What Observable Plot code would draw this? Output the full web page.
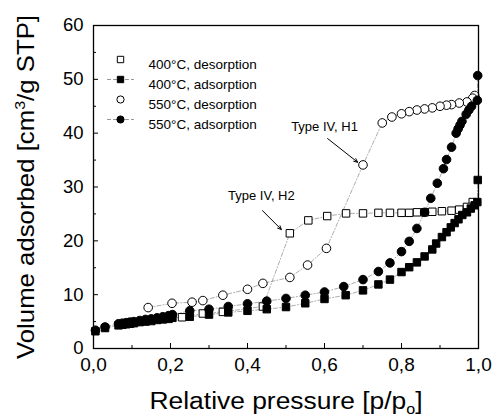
<!DOCTYPE html>
<html><head><meta charset="utf-8">
<script src="https://cdn.jsdelivr.net/npm/d3@7"></script>
<script src="https://cdn.jsdelivr.net/npm/@observablehq/plot@0.6"></script>
<style>
body{margin:0;background:#fff}
svg{font-family:"Liberation Sans", Arial, sans-serif}
</style>
</head><body><div id="chart"></div>
<script>
// ---- data ----
const p400des = [0.985,0.97,0.95,0.93,0.905,0.88,0.86,0.84,0.82,0.80,0.77,0.74,0.70,0.656,0.607,0.558,0.51,0.44,0.336,0.284,0.23];
const v400des = [27.2,26.3,25.8,25.6,25.5,25.4,25.3,25.3,25.2,25.2,25.2,25.2,25.1,25.1,24.6,23.8,21.4,7.8,6.8,6.5,5.8];

const p400ads = [0.005,0.03,0.065,0.075,0.085,0.095,0.105,0.12,0.135,0.15,0.165,0.18,0.195,0.205,0.25,0.30,0.35,0.40,0.45,0.50,0.55,0.60,0.655,0.70,0.74,0.77,0.80,0.82,0.84,0.86,0.88,0.89,0.905,0.917,0.928,0.938,0.948,0.958,0.97,0.98,0.99,0.997,0.998];
const v400ads = [3.2,3.8,4.3,4.4,4.5,4.6,4.7,4.9,5.0,5.1,5.3,5.4,5.5,5.7,5.9,6.3,6.7,7.0,7.3,7.7,8.4,9.2,9.9,10.8,11.9,12.8,14.2,15.1,16.0,17.1,18.4,19.5,20.7,21.6,22.5,23.3,24.0,24.8,25.3,26.0,26.6,27.2,31.3];

const p550des = [0.99,0.985,0.97,0.95,0.93,0.917,0.90,0.88,0.86,0.84,0.82,0.80,0.775,0.75,0.70,0.605,0.556,0.51,0.44,0.40,0.336,0.284,0.256,0.204,0.142];
const v550des = [47.0,46.5,45.8,45.6,45.3,45.2,45.0,44.7,44.5,44.3,44.0,43.6,43.0,41.9,34.1,18.6,15.5,13.2,12.1,11.0,9.9,8.9,8.6,8.4,7.6];

const p550ads = [0.005,0.03,0.065,0.075,0.085,0.095,0.105,0.12,0.135,0.15,0.165,0.18,0.195,0.205,0.25,0.30,0.35,0.40,0.45,0.50,0.55,0.60,0.65,0.70,0.74,0.77,0.80,0.82,0.84,0.86,0.876,0.893,0.909,0.917,0.93,0.942,0.947,0.952,0.957,0.968,0.975,0.982,0.997,0.998];
const v550ads = [3.4,4.0,4.6,4.7,4.8,4.9,5.0,5.2,5.4,5.5,5.7,5.9,6.1,6.3,7.0,7.3,7.8,8.3,8.8,9.3,9.9,10.5,11.5,12.8,14.3,15.9,18.0,19.9,22.3,25.3,27.9,30.7,33.4,35.1,37.4,40.0,40.8,41.5,42.2,43.5,44.3,45.0,46.1,50.7];

const seriesNames = ["400°C, desorption","400°C, adsorption","550°C, desorption","550°C, adsorption"];
const seriesSymbols = ["square","square","circle","circle"];
const seriesFilled = [false,true,false,true];
const seriesLegendLine = [false,true,false,true];

const xTicks = [0,0.2,0.4,0.6,0.8,1.0];
const xMinor = [0.1,0.3,0.5,0.7,0.9];
const yTicks = [0,10,20,30,40,50,60];
const yMinor = [5,15,25,35,45,55];

const annLabels = ["Type IV, H1","Type IV, H2"];
const annTextX = [0.60,0.436];
const annTextY = [41.1,28.4];
const annFromX = [0.608,0.439];
const annFromY = [39.0,25.6];
const annToX = [0.686,0.488];
const annToY = [34.6,22.1];

const xTitle = "Relative pressure [p/po]";
const yTitle = "Volume adsorbed [cm³/g STP]";

// ---- build tables ----
const pairs = [[p400des,v400des],[p400ads,v400ads],[p550des,v550des],[p550ads,v550ads]];
const series = pairs.map(([ps,vs],i) => ps.map((p,j) => ({p, v: vs[j], s: seriesNames[i], i})));
const annotations = annLabels.map((t,i) => ({t, tx: annTextX[i], ty: annTextY[i], x1: annFromX[i], y1: annFromY[i], x2: annToX[i], y2: annToY[i]}));
const fmt = d => d.toFixed(1).replace(".", ",");

const marks = [];
series.forEach(rows => {
  marks.push(Plot.line(rows.slice().sort((a,b)=>a.p-b.p), {x:"p", y:"v", stroke:"#888", strokeWidth:0.7, strokeDasharray:"4,2,1,2"}));
});
series.forEach((rows,i) => {
  marks.push(Plot.dot(rows, {x:"p", y:"v", symbol: seriesSymbols[i], r: seriesSymbols[i]==="square"?4.2:4.3,
    fill: seriesFilled[i] ? "black" : "white", stroke:"black", strokeWidth: 1}));
});
seriesNames.forEach((name,i) => {
  const dy = 34 + i*20;
  if (seriesLegendLine[i]) {
    marks.push(Plot.vector([name], {frameAnchor:"top-left", dx: 14, dy, length: 26, rotate: 90, anchor:"start",
      stroke:"#777", strokeWidth:0.8, strokeDasharray:"3,3",
      shape: {draw(ctx, l){ ctx.moveTo(0,0); ctx.lineTo(0,-l); }}}));
  }
  marks.push(Plot.dot([name], {frameAnchor:"top-left", dx: 27, dy, symbol: seriesSymbols[i], r: 3.6,
    fill: seriesFilled[i] ? "black" : "white", stroke:"black", strokeWidth: 1}));
  marks.push(Plot.text([name], {frameAnchor:"top-left", dx: 55, dy, text: d=>d, textAnchor:"start", fontSize: 13.5, fill:"black"}));
});
marks.push(Plot.arrow(annotations, {x1:"x1", y1:"y1", x2:"x2", y2:"y2", stroke:"black", strokeWidth:1, headLength:6, headAngle:50}));
marks.push(Plot.text(annotations, {x:"tx", y:"ty", text:"t", fontSize:13, fill:"black"}));
marks.push(Plot.axisX(xTicks, {anchor:"bottom", tickSize:0, tickPadding:9, tickFormat: fmt, fontSize:19, label:null}));
marks.push(Plot.axisX(xTicks, {anchor:"bottom", tickSize:-5, fill:"none", label:null}));
marks.push(Plot.axisX(xMinor, {anchor:"bottom", tickSize:-3, fill:"none", label:null}));
marks.push(Plot.axisY(yTicks, {anchor:"left", tickSize:0, tickPadding:10, fontSize:18.5, label:null}));
marks.push(Plot.axisY(yTicks, {anchor:"left", tickSize:-5, fill:"none", label:null}));
marks.push(Plot.axisY(yMinor, {anchor:"left", tickSize:-3, fill:"none", label:null}));
marks.push(Plot.text([xTitle], {frameAnchor:"bottom", dy: 53, text:d=>d, fontSize:23, fill:"black", textAnchor:"middle", lineAnchor:"middle"}));
marks.push(Plot.text([yTitle], {frameAnchor:"left", dx: -67, rotate:-90, text:d=>d, fontSize:24, fill:"black", textAnchor:"middle", lineAnchor:"middle"}));
marks.push(Plot.frame({stroke:"black", strokeWidth:1.3}));

const chart = Plot.plot({
  width: 497, height: 417,
  marginLeft: 93, marginRight: 19, marginTop: 25, marginBottom: 69,
  x: {domain:[0,1], axis:null},
  y: {domain:[0,60], axis:null},
  style: {fontFamily:'"Liberation Sans", Arial, sans-serif', background:"white", color:"black"},
  marks
});
document.getElementById("chart").appendChild(chart);

d3.select(chart).selectAll("text").each(function(){
  const t = this.textContent;
  if (t === xTitle) {
    const el = d3.select(this);
    el.text(null);
    el.append("tspan").text("Relative pressure [p/p");
    el.append("tspan").attr("font-size", 14).attr("dy", 5).text("o");
    el.append("tspan").attr("dy", -5).text("]");
    el.attr("textLength", 273).attr("lengthAdjust", "spacingAndGlyphs");
  } else if (t === yTitle) {
    const el = d3.select(this);
    el.text(null);
    el.append("tspan").text("Volume adsorbed [cm");
    el.append("tspan").attr("font-size", 15).attr("dy", -9).text("3");
    el.append("tspan").attr("dy", 9).text("/g STP]");
    el.attr("textLength", 344).attr("lengthAdjust", "spacingAndGlyphs");
  }
});
</script>
</body></html>
